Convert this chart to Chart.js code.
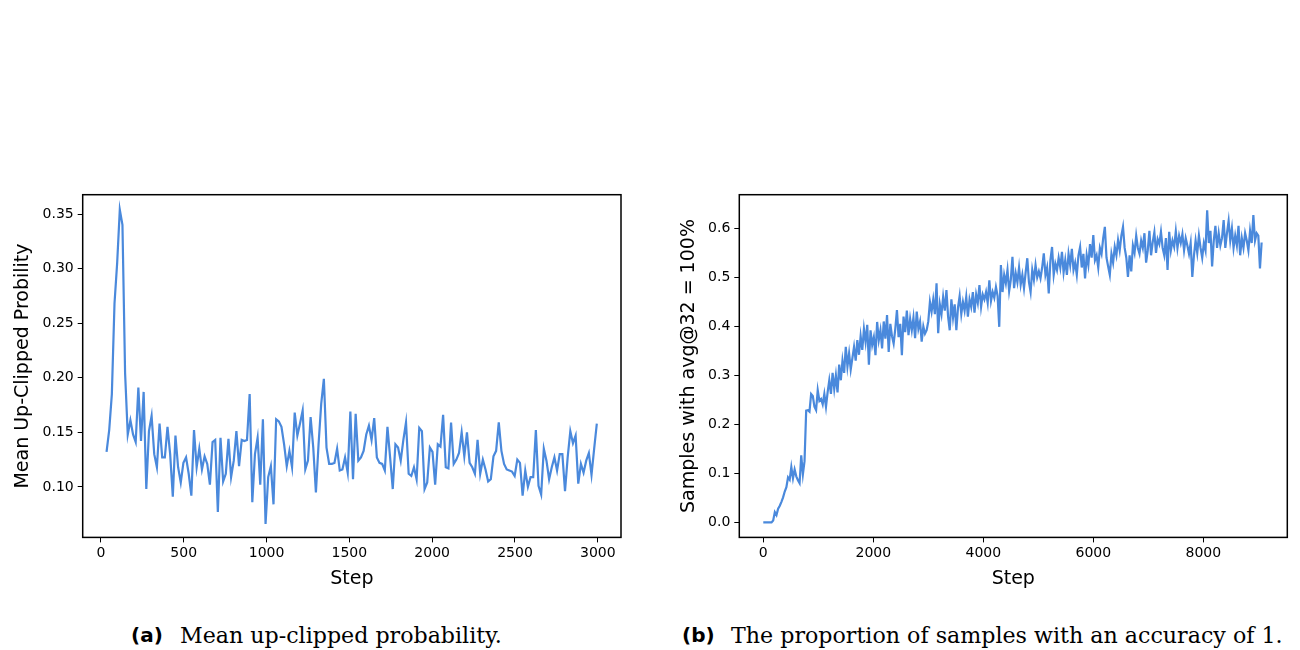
<!DOCTYPE html>
<html>
<head>
<meta charset="utf-8">
<script src="https://cdn.jsdelivr.net/npm/chart.js@4.4.0/dist/chart.umd.min.js"></script>
<style>
  body { margin: 0; width: 1300px; height: 650px; background: #fff; position: relative; overflow: hidden; }
  .box { position: absolute; }
  .cap { position: absolute; top: 620px; height: 30px; line-height: 30px; white-space: nowrap; color: #000; }
  .cap .tag { position: absolute; top: 0; font-family: "DejaVu Sans"; font-weight: bold; font-size: 20px; }
  .cap .txt { position: absolute; top: 0; font-family: "DejaVu Serif"; font-size: 21px; }
</style>
</head>
<body>
<div class="box" style="left:0;top:180px"><canvas id="leftChart" width="640" height="420"></canvas></div>
<div class="box" style="left:650px;top:180px"><canvas id="rightChart" width="650" height="420"></canvas></div>

<div class="cap" style="left:0;width:650px">
  <span class="tag" style="left:131px">(a)</span>
  <span class="txt" id="capA" style="left:180px">Mean up-clipped probability.</span>
</div>
<div class="cap" style="left:0;width:1300px">
  <span class="tag" style="left:682px">(b)</span>
  <span class="txt" id="capB" style="left:731px">The proportion of samples with an accuracy of 1.</span>
</div>

<script>
// (a) mean up-clipped probability, logged every 16 steps starting at step 34
const clipFirstStep = 34;
const clipStepGap = 16;
const clipProb = [
  0.132, 0.152, 0.185, 0.268, 0.305, 0.354, 0.340, 0.204, 0.148, 0.161, 0.148, 0.141, 0.191, 0.142, 0.187, 0.098,
  0.151, 0.165, 0.130, 0.118, 0.158, 0.127, 0.127, 0.155, 0.130, 0.091, 0.147, 0.118, 0.104, 0.122, 0.127, 0.112,
  0.092, 0.152, 0.118, 0.135, 0.116, 0.128, 0.121, 0.102, 0.141, 0.143, 0.077, 0.145, 0.105, 0.112, 0.144, 0.109,
  0.124, 0.151, 0.119, 0.143, 0.142, 0.143, 0.185, 0.086, 0.130, 0.145, 0.102, 0.162, 0.066, 0.109, 0.119, 0.084,
  0.162, 0.160, 0.155, 0.139, 0.119, 0.133, 0.118, 0.168, 0.147, 0.158, 0.170, 0.116, 0.124, 0.164, 0.136, 0.095,
  0.139, 0.176, 0.199, 0.136, 0.121, 0.121, 0.122, 0.135, 0.115, 0.116, 0.127, 0.113, 0.169, 0.107, 0.167, 0.124,
  0.127, 0.133, 0.148, 0.156, 0.143, 0.163, 0.127, 0.122, 0.121, 0.115, 0.155, 0.127, 0.098, 0.139, 0.136, 0.124,
  0.143, 0.159, 0.112, 0.110, 0.118, 0.107, 0.154, 0.151, 0.098, 0.104, 0.136, 0.132, 0.102, 0.139, 0.137, 0.166,
  0.118, 0.117,
  0.159, 0.121, 0.125, 0.131, 0.150, 0.128, 0.150, 0.122, 0.118, 0.112, 0.143, 0.112, 0.125, 0.116, 0.105, 0.107,
  0.128, 0.133, 0.159, 0.133, 0.121, 0.116, 0.115, 0.114, 0.110, 0.125, 0.122, 0.092, 0.115, 0.100, 0.109, 0.109,
  0.152, 0.101, 0.093, 0.135, 0.124, 0.107, 0.118, 0.127, 0.115, 0.130, 0.130, 0.096, 0.127, 0.151, 0.140, 0.147,
  0.103, 0.121, 0.113, 0.124, 0.131, 0.111, 0.135, 0.158
];
const clipXTicks = [0, 500, 1000, 1500, 2000, 2500, 3000];
const clipYTicks = [0.10, 0.15, 0.20, 0.25, 0.30, 0.35];

// (b) share of samples with avg@32 = 100%, read every 30 steps from step 0
const accStepGap = 30;
const accShare = [
  0, 0, 0, 0, 0, 0, 0.004, 0.021, 0.015, 0.028,
  0.034, 0.042, 0.051, 0.063, 0.072, 0.092, 0.087, 0.113, 0.090, 0.108,
  0.094, 0.086, 0.080, 0.137, 0.098, 0.125, 0.228, 0.229, 0.226, 0.262,
  0.258, 0.236, 0.229, 0.270, 0.248, 0.252, 0.241, 0.262, 0.236, 0.266,
  0.290, 0.262, 0.305, 0.272, 0.300, 0.265, 0.322, 0.290, 0.330, 0.305,
  0.358, 0.318, 0.345, 0.312, 0.335, 0.358, 0.330, 0.372, 0.342, 0.380,
  0.352, 0.395, 0.368, 0.403, 0.322, 0.392, 0.362, 0.378, 0.341, 0.409,
  0.372, 0.392, 0.355, 0.410, 0.375, 0.423, 0.348, 0.405, 0.380, 0.365,
  0.395, 0.433, 0.378, 0.405, 0.341, 0.420, 0.388, 0.432, 0.382, 0.415,
  0.392, 0.418, 0.376, 0.430, 0.395, 0.410, 0.369, 0.400, 0.385, 0.392,
  0.410, 0.450, 0.430, 0.455, 0.425, 0.488, 0.386, 0.445, 0.425, 0.460,
  0.432, 0.474, 0.420, 0.392, 0.455, 0.418, 0.445, 0.392, 0.438, 0.462,
  0.425, 0.450, 0.432, 0.460, 0.420, 0.455, 0.440, 0.470, 0.428, 0.465,
  0.448, 0.484, 0.440, 0.465, 0.455, 0.470, 0.448, 0.494, 0.452, 0.470,
  0.458, 0.480, 0.462, 0.399, 0.525, 0.470, 0.505, 0.488, 0.515, 0.472,
  0.495, 0.542, 0.478, 0.508, 0.490, 0.520, 0.485, 0.505, 0.478, 0.510,
  0.539, 0.490, 0.470, 0.515, 0.495, 0.525, 0.500, 0.512, 0.498, 0.520,
  0.549, 0.505, 0.520, 0.467, 0.535, 0.562, 0.505, 0.528, 0.515, 0.540,
  0.520, 0.552, 0.510, 0.535, 0.505, 0.548, 0.525, 0.558, 0.515, 0.530,
  0.505, 0.545, 0.562, 0.520, 0.548, 0.498, 0.545, 0.525, 0.568, 0.540,
  0.586, 0.535, 0.545, 0.520, 0.560, 0.548, 0.580, 0.603, 0.540, 0.522,
  0.505, 0.548, 0.530, 0.562, 0.545, 0.576, 0.555, 0.585, 0.603, 0.560,
  0.540, 0.501, 0.545, 0.512, 0.565, 0.550, 0.585, 0.560, 0.548, 0.575,
  0.560, 0.590, 0.530, 0.555, 0.595, 0.545, 0.572, 0.592, 0.550, 0.578,
  0.568, 0.593, 0.560, 0.545, 0.580, 0.515, 0.593, 0.555, 0.575, 0.562,
  0.594, 0.560, 0.585, 0.570, 0.588, 0.555, 0.580, 0.565, 0.548, 0.570,
  0.501, 0.545, 0.575, 0.550, 0.585, 0.560, 0.540, 0.570, 0.555, 0.637,
  0.570, 0.595, 0.522, 0.575, 0.605, 0.560, 0.590, 0.565, 0.580, 0.617,
  0.560, 0.590, 0.615, 0.575, 0.600, 0.560, 0.585, 0.565, 0.605, 0.545,
  0.580, 0.560, 0.590, 0.575, 0.555, 0.595, 0.570, 0.627, 0.575, 0.590,
  0.585, 0.518, 0.571
];
const accXTicks = [0, 2000, 4000, 6000, 8000];
const accYTicks = [0.0, 0.1, 0.2, 0.3, 0.4, 0.5, 0.6];

const lineColor = '#4a89dc';
const tickFont = { family: 'DejaVu Sans', size: 14 };
const titleFont = { family: 'DejaVu Sans', size: 19 };

// black box around the plot area, like the matplotlib spines
const framePlugin = {
    id: 'frame',
    afterDraw(chart) {
        const a = chart.chartArea;
        const ctx = chart.ctx;
        ctx.save();
        ctx.strokeStyle = '#000';
        ctx.lineWidth = 1.5;
        ctx.strokeRect(a.left, a.top, a.right - a.left, a.bottom - a.top);
        ctx.restore();
    }
};

function makeChart(canvasId, points, opts) {
    const config = {
        type: 'line',
        data: {
            datasets: [{
                data: points,
                borderColor: lineColor,
                borderWidth: 2.2,
                pointRadius: 0,
                tension: 0,
                fill: false
            }]
        },
        options: {
            responsive: false,
            animation: false,
            devicePixelRatio: 1,
            layout: { padding: opts.padding },
            plugins: { legend: { display: false }, tooltip: { enabled: false } },
            scales: {
                x: {
                    type: 'linear',
                    min: opts.xMin,
                    max: opts.xMax,
                    afterBuildTicks: s => { s.ticks = opts.xTicks.map(v => ({ value: v })); },
                    afterFit: s => { s.height = 57; },
                    grid: { drawOnChartArea: false, drawTicks: true, tickLength: 5, color: '#000', lineWidth: 1 },
                    border: { display: false },
                    ticks: { font: tickFont, color: '#000', padding: 3, maxRotation: 0, callback: v => String(v) },
                    title: { display: true, text: 'Step', font: titleFont, color: '#000', padding: { top: 2, bottom: 4 } }
                },
                y: {
                    type: 'linear',
                    min: opts.yMin,
                    max: opts.yMax,
                    afterBuildTicks: s => { s.ticks = opts.yTicks.map(v => ({ value: v })); },
                    afterFit: s => { s.width = opts.yWidth; },
                    grid: { drawOnChartArea: false, drawTicks: true, tickLength: 5, color: '#000', lineWidth: 1 },
                    border: { display: false },
                    ticks: { font: tickFont, color: '#000', padding: 4, callback: v => v.toFixed(opts.yDecimals) },
                    title: { display: true, text: opts.yTitle, font: titleFont, color: '#000', padding: { top: 12, bottom: 4 } }
                }
            }
        },
        plugins: [framePlugin]
    };
    return new Chart(document.getElementById(canvasId), config);
}

const clipPoints = clipProb.map((v, i) => ({ x: clipFirstStep + i * clipStepGap, y: v }));
const accPoints = accShare.map((v, i) => ({ x: i * accStepGap, y: v }));

makeChart('leftChart', clipPoints, {
    padding: { top: 14.7, right: 19, bottom: 5.6, left: 0 },
    xMin: -110, xMax: 3140, xTicks: clipXTicks,
    yMin: 0.0537, yMax: 0.3677, yTicks: clipYTicks, yDecimals: 2,
    yWidth: 82.7,
    yTitle: 'Mean Up-Clipped Probility'
});

makeChart('rightChart', accPoints, {
    padding: { top: 14.7, right: 12.7, bottom: 5.6, left: 16 },
    xMin: -436, xMax: 9527, xTicks: accXTicks,
    yMin: -0.0306, yMax: 0.6686, yTicks: accYTicks, yDecimals: 1,
    yWidth: 73.3,
    yTitle: 'Samples with avg@32 = 100%'
});

// stretch caption text to the width it takes in the figure
function fitCaption(id, target) {
    const el = document.getElementById(id);
    const w = el.getBoundingClientRect().width;
    const size = parseFloat(getComputedStyle(el).fontSize);
    el.style.fontSize = (size * target / w).toFixed(2) + 'px';
}
fitCaption('capA', 322);
fitCaption('capB', 552);
</script>
</body>
</html>
